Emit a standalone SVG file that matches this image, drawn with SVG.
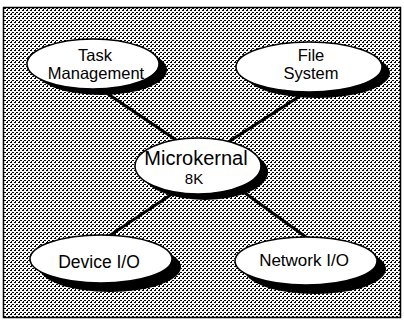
<svg xmlns="http://www.w3.org/2000/svg" width="404" height="327" viewBox="0 0 404 327">
<style>
.shadow{fill:#000}
.node{fill:#fff;stroke:#000;stroke-width:1.5}
.lbl{font-family:"Liberation Sans",Arial,sans-serif;fill:#000;text-anchor:middle}
.conn{stroke:#000;stroke-width:3;fill:none}
.px{fill:#000;shape-rendering:crispEdges}
</style>
<defs>
<pattern id="dither" patternUnits="userSpaceOnUse" width="4" height="4">
<rect width="4" height="4" fill="#fff"/>
<rect class="px" x="0" y="0" width="2" height="1"/>
<rect class="px" x="2" y="2" width="2" height="1"/>
<rect class="px" x="3" y="1" width="1" height="1"/>
</pattern>
</defs>
<rect width="404" height="327" fill="#fff"/>
<rect id="frame" x="3.5" y="7.5" width="397" height="310" fill="url(#dither)" stroke="#000" stroke-width="1.5"/>
<g id="connectors">
<line class="conn" x1="105" y1="92" x2="185" y2="146"/>
<line class="conn" x1="300" y1="96" x2="222" y2="146"/>
<line class="conn" x1="178" y1="190" x2="100" y2="242"/>
<line class="conn" x1="238" y1="188" x2="310" y2="240"/>
</g>
<g id="task-management">
<ellipse class="shadow" cx="101" cy="70" rx="66" ry="25"/>
<ellipse class="node" cx="93" cy="64" rx="66" ry="25"/>
<text class="lbl" x="95" y="61" font-size="16.5">Task</text>
<text class="lbl" x="96" y="79" font-size="16.5">Management</text>
</g>
<g id="file-system">
<ellipse class="shadow" cx="317" cy="73" rx="73" ry="25"/>
<ellipse class="node" cx="309" cy="67" rx="73" ry="25"/>
<text class="lbl" x="311" y="61" font-size="16.5">File</text>
<text class="lbl" x="311" y="79" font-size="16.5">System</text>
</g>
<g id="microkernal">
<ellipse class="shadow" cx="205" cy="172" rx="63" ry="28"/>
<ellipse class="node" cx="198" cy="166" rx="63" ry="28"/>
<text class="lbl" x="196" y="165" font-size="20">Microkernal</text>
<text class="lbl" x="194" y="184" font-size="15">8K</text>
</g>
<g id="device-io">
<ellipse class="shadow" cx="110" cy="267" rx="71" ry="25"/>
<ellipse class="node" cx="101" cy="259" rx="71" ry="24"/>
<text class="lbl" x="99" y="268" font-size="17.5">Device I/O</text>
</g>
<g id="network-io">
<ellipse class="shadow" cx="315" cy="269" rx="71" ry="25"/>
<ellipse class="node" cx="306" cy="261" rx="71" ry="24"/>
<text class="lbl" x="304" y="266" font-size="17">Network I/O</text>
</g>
</svg>
